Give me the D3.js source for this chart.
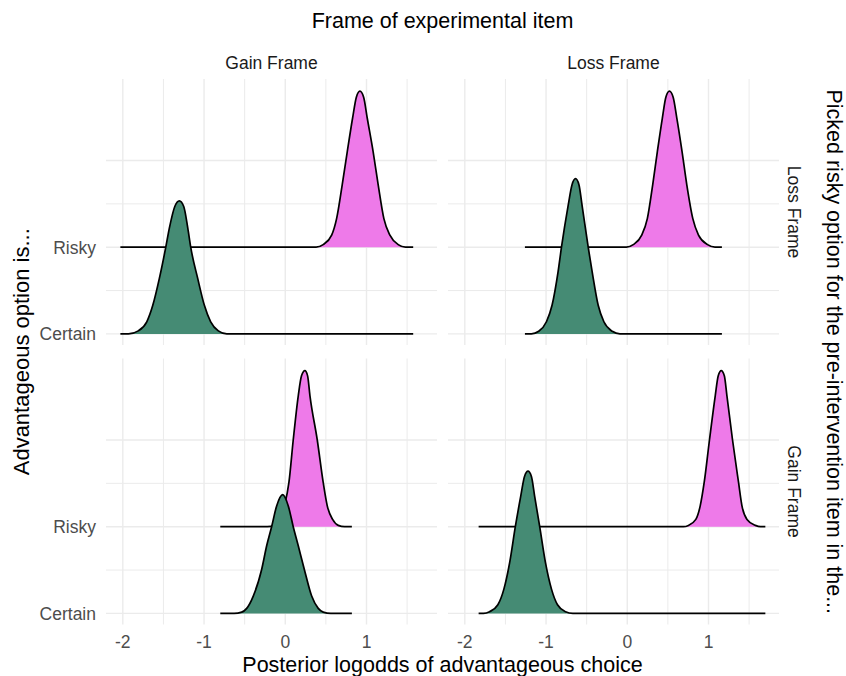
<!DOCTYPE html>
<html>
<head>
<meta charset="utf-8">
<script src="https://cdn.jsdelivr.net/npm/d3@7"></script>
<style>
  html, body { margin: 0; padding: 0; background: #ffffff; }
  svg text { font-family: "Liberation Sans", Arial, sans-serif; }
</style>
</head>
<body>
<svg id="chart" width="846" height="676"></svg>
<script>
// ---------------- DATA ----------------
const colFacets = ["Gain Frame", "Loss Frame"];        // Frame of experimental item
const rowFacets = ["Loss Frame", "Gain Frame"];        // Picked risky option for the pre-intervention item in the...
const categories = ["Certain", "Risky"];
const xTicks = [-2, -1, 0, 1];
const xMinorTicks = [-1.5, -0.5, 0.5, 1.5];

// x-range of the density estimate per panel [row][col]
const rangeLossGain = [-2.03, 1.575];
const rangeLossLoss = [-1.26, 1.165];
const rangeGainGain = [-0.80, 0.82];
const rangeGainLoss = [-1.83, 1.70];

// density ridge points [x, scaled height]
const lossGainRisky = [[0.38,0],[0.467,0.03],[0.571,0.14],[0.632,0.33],[0.701,0.72],[0.763,1.10],[0.829,1.49],[0.875,1.73],[0.919,1.80],[0.965,1.73],[1.009,1.49],[1.082,1.10],[1.144,0.72],[1.214,0.33],[1.288,0.14],[1.39,0.03],[1.48,0]];
const lossGainCertain = [[-1.93,0],[-1.81,0.035],[-1.705,0.14],[-1.631,0.33],[-1.55,0.64],[-1.471,1.0],[-1.427,1.22],[-1.36,1.47],[-1.304,1.534],[-1.25,1.47],[-1.20,1.22],[-1.164,1.0],[-1.078,0.64],[-0.996,0.33],[-0.918,0.14],[-0.824,0.035],[-0.72,0]];
const lossLossRisky = [[-0.01,0],[0.074,0.03],[0.178,0.14],[0.247,0.33],[0.313,0.72],[0.37,1.10],[0.432,1.49],[0.475,1.73],[0.519,1.80],[0.565,1.73],[0.61,1.49],[0.675,1.10],[0.733,0.72],[0.807,0.33],[0.877,0.14],[0.988,0.03],[1.08,0]];
const lossLossCertain = [[-1.18,0],[-1.09,0.03],[-0.995,0.14],[-0.926,0.33],[-0.852,0.715],[-0.81,1.0],[-0.728,1.48],[-0.68,1.72],[-0.637,1.79],[-0.595,1.72],[-0.556,1.48],[-0.481,1.0],[-0.432,0.715],[-0.358,0.33],[-0.288,0.14],[-0.185,0.03],[-0.09,0]];
const gainGainRisky = [[-0.22,0],[-0.13,0.015],[-0.06,0.084],[-0.01,0.24],[0.045,0.51],[0.098,1.0],[0.16,1.51],[0.20,1.74],[0.242,1.80],[0.275,1.74],[0.304,1.51],[0.394,1.0],[0.467,0.51],[0.517,0.24],[0.583,0.084],[0.652,0.015],[0.73,0]];
const gainGainCertain = [[-0.63,0],[-0.536,0.015],[-0.475,0.058],[-0.394,0.20],[-0.29,0.51],[-0.229,0.78],[-0.168,1.0],[-0.106,1.24],[-0.032,1.37],[0.037,1.24],[0.098,1.0],[0.16,0.78],[0.234,0.51],[0.325,0.20],[0.406,0.058],[0.467,0.015],[0.56,0]];
const gainLossRisky = [[0.69,0],[0.753,0.015],[0.844,0.084],[0.898,0.24],[0.947,0.51],[1.012,1.0],[1.083,1.51],[1.12,1.74],[1.157,1.80],[1.195,1.74],[1.227,1.51],[1.296,1.0],[1.37,0.51],[1.412,0.24],[1.474,0.084],[1.577,0.015],[1.64,0]];
const gainLossCertain = [[-1.77,0],[-1.695,0.02],[-1.593,0.10],[-1.519,0.28],[-1.448,0.585],[-1.378,1.0],[-1.312,1.35],[-1.265,1.58],[-1.222,1.64],[-1.18,1.58],[-1.14,1.35],[-1.078,1.0],[-1.007,0.585],[-0.933,0.28],[-0.859,0.10],[-0.76,0.02],[-0.67,0]];

const fillColors = { Certain: "#458B74", Risky: "#EE7AE9" };

// panel table built from the arrays above
const panels = [
  { row: 0, col: 0, range: rangeLossGain, ridges: { Risky: lossGainRisky, Certain: lossGainCertain } },
  { row: 0, col: 1, range: rangeLossLoss, ridges: { Risky: lossLossRisky, Certain: lossLossCertain } },
  { row: 1, col: 0, range: rangeGainGain, ridges: { Risky: gainGainRisky, Certain: gainGainCertain } },
  { row: 1, col: 1, range: rangeGainLoss, ridges: { Risky: gainLossRisky, Certain: gainLossCertain } }
];

// ---------------- LAYOUT ----------------
const svg = d3.select("#chart");
svg.append("rect").attr("width", 846).attr("height", 676).attr("fill", "#ffffff");

const panelW = 331, panelH = 266;
const colX = [106, 448];
const rowY = [79, 358.5];

const x = d3.scaleLinear().domain([-2.207, 1.868]).range([0, panelW]);
const y = d3.scaleLinear().domain([0.872, 3.94]).range([panelH, 0]);
const yCat = c => categories.indexOf(c) + 1;

const gridCol = "#ebebeb";

panels.forEach(p => {
  const g = svg.append("g").attr("transform", `translate(${colX[p.col]},${rowY[p.row]})`);

  // grid
  g.selectAll(".vminor").data(xMinorTicks).join("line")
    .attr("x1", d => x(d)).attr("x2", d => x(d)).attr("y1", 0).attr("y2", panelH)
    .attr("stroke", gridCol).attr("stroke-width", 1);
  g.selectAll(".vmajor").data(xTicks).join("line")
    .attr("x1", d => x(d)).attr("x2", d => x(d)).attr("y1", 0).attr("y2", panelH)
    .attr("stroke", gridCol).attr("stroke-width", 1.4);
  const yGrid = [1, 1.5, 2, 2.5, 3];
  g.selectAll(".hgrid").data(yGrid).join("line")
    .attr("x1", 0).attr("x2", panelW).attr("y1", d => y(d)).attr("y2", d => y(d))
    .attr("stroke", gridCol).attr("stroke-width", d => Number.isInteger(d) ? 1.4 : 1);

  // ridges: Risky (upper) first, then Certain drawn over it
  ["Risky", "Certain"].forEach(cat => {
    const base = yCat(cat);
    const pts = [[p.range[0], 0], ...p.ridges[cat], [p.range[1], 0]];
    const area = d3.area()
      .x(d => x(d[0])).y0(y(base)).y1(d => y(base + d[1]))
      .curve(d3.curveMonotoneX);
    const line = d3.line()
      .x(d => x(d[0])).y(d => y(base + d[1]))
      .curve(d3.curveMonotoneX);
    g.append("path").datum(pts).attr("d", area).attr("fill", fillColors[cat]).attr("stroke", "none");
    g.append("path").datum(pts).attr("d", line).attr("fill", "none")
      .attr("stroke", "#000000").attr("stroke-width", 1.7).attr("stroke-linejoin", "round");
  });
});

// x tick labels under bottom row
colX.forEach(cx => {
  svg.append("g").selectAll("text").data(xTicks).join("text")
    .attr("x", d => cx + x(d)).attr("y", 647.5)
    .attr("text-anchor", "middle").attr("font-size", 17.5).attr("fill", "#4d4d4d")
    .text(d => d < 0 ? "-" + Math.abs(d) : String(d));
});

// y tick labels on left column
rowY.forEach(ry => {
  svg.append("g").selectAll("text").data(categories).join("text")
    .attr("x", 96).attr("y", d => ry + y(yCat(d)) + 6.3)
    .attr("text-anchor", "end").attr("font-size", 17.5).attr("fill", "#4d4d4d")
    .text(d => d);
});

// column strip labels
colFacets.forEach((lab, i) => {
  svg.append("text").attr("x", colX[i] + panelW / 2).attr("y", 69)
    .attr("text-anchor", "middle").attr("font-size", 17.5).attr("fill", "#1a1a1a").text(lab);
});

// row strip labels (rotated)
rowFacets.forEach((lab, i) => {
  const cy = rowY[i] + panelH / 2;
  svg.append("text").attr("transform", `translate(788,${cy}) rotate(90)`)
    .attr("text-anchor", "middle").attr("font-size", 17.5).attr("fill", "#1a1a1a").text(lab);
});

// titles
const midX = (colX[0] + colX[1] + panelW) / 2;
const midY = (rowY[0] + rowY[1] + panelH) / 2;
svg.append("text").attr("x", midX).attr("y", 28).attr("text-anchor", "middle")
  .attr("font-size", 21.5).attr("fill", "#000").text("Frame of experimental item");
svg.append("text").attr("x", midX).attr("y", 671.5).attr("text-anchor", "middle")
  .attr("font-size", 21.5).attr("fill", "#000").text("Posterior logodds of advantageous choice");
svg.append("text").attr("transform", `translate(29,${midY}) rotate(-90)`).attr("text-anchor", "middle")
  .attr("font-size", 22).attr("fill", "#000").text("Advantageous option is...");
svg.append("text").attr("transform", `translate(827,${midY}) rotate(90)`).attr("text-anchor", "middle")
  .attr("font-size", 21.5).attr("fill", "#000").text("Picked risky option for the pre-intervention item in the...");
</script>
</body>
</html>
